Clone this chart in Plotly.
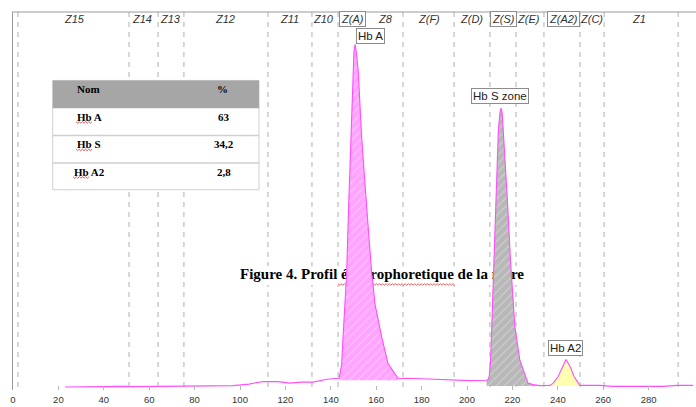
import plotly.graph_objects as go

# ---- Capillary electrophoresis signal (migration position vs. absorbance, a.u.) ----
signal_x = [
    22.9, 28.0, 34.8, 43.6, 48.0, 54.0, 60.4, 66.1, 73.6, 83.7, 86.8, 96.9, 104.0,
    110.1, 116.7, 122.0, 127.3, 132.2, 138.3, 143.0,
    # Hb A
    143.6, 144.1, 144.8, 145.4, 146.3, 147.0, 147.8, 148.9, 149.6, 150.2, 150.7,
    151.3, 152.1, 153.6, 155.9, 158.0, 159.5, 162.4, 165.2, 168.3, 169.6,
    170.2, 172.7, 180.0, 187.0, 193.8, 201.3, 208.6,
    # Hb S
    209.4, 209.8, 210.4, 210.9, 211.9, 212.8, 213.8, 214.5, 215.0, 215.5, 216.0,
    217.7, 219.2, 221.1, 223.3, 225.6, 226.9, 229.0, 232.2, 234.5, 236.6,
    # Hb A2
    238.0, 240.2, 242.2, 243.6, 245.4, 247.1, 249.0, 249.8,
    258.6, 263.9, 273.1, 286.3, 292.5, 299.6,
]
signal_y = [
    0.0, 0.2, 0.0, 0.7, 0.7, 0.4, 0.5, 0.8, 1.0, 1.0, 1.5, 1.5, 3.0,
    5.7, 5.5, 4.0, 5.0, 5.0, 8.0, 8.5,
    9, 14, 24, 51, 84, 117, 180, 254, 321, 342, 349,
    340, 321, 254, 180, 117, 84, 51, 24, 14, 9,
    8.5, 9, 8.5, 8, 7, 6.5, 7,
    8, 11, 27, 61, 127, 194, 261, 279, 284, 279, 261,
    194, 127, 61, 27, 11, 4, 2.5, 1.5, 1.6, 1.7,
    4, 11, 21, 28, 21, 11, 4, 1.7,
    1.7, 0.7, 0.7, 0.7, 1.7, 1.7,
]

# Integrated fractions (%)
fraction_names = ["Hb A", "Hb S", "Hb A2"]
fraction_pct = ["63", "34,2", "2,8"]

# Peak windows: (label, start, end, fill base, background, stripe)
peaks = [
    ("Hb A", 143.3, 169.7, 7.0, "#ffa3ff", "#ffc8ff"),
    ("Hb S zone", 208.6, 232.2, 1.0, "#b8b8b8", "#d2d2d2"),
    ("Hb A2", 236.6, 249.8, 1.0, "#ffffaa", "#ffffcc"),
]
peak_label_pos = [(157.7, 357.5), (214.5, 296.0), (243.4, 39.5)]

# Migration zones
zone_bounds = [2.2, 51.1, 63.9, 75.3, 112.3, 131.7, 143.2, 171.8, 194.3,
               210.1, 221.6, 233.9, 249.8, 260.4, 293.0]
zone_names = ["Z15", "Z14", "Z13", "Z12", "Z11", "Z10", "Z(A)", "Z8", "Z(F)",
              "Z(D)", "Z(S)", "Z(E)", "Z(A2)", "Z(C)", "Z1"]
zone_centers = [26.9, 56.7, 69.4, 93.4, 121.6, 136.6, 149.5, 164.1, 183.3,
                202.2, 215.9, 227.3, 242.3, 254.8, 275.8]
boxed_zones = {"Z(A)", "Z(S)", "Z(A2)"}

x_ticks = list(range(0, 301, 20))

caption = "Figure 4. Profil électrophoretique de la mère"

LINE = "#ff4dff"


# screen helpers for the decorations (axis is 2.27 px / unit, y 1 px / unit)
def X(px):
    return (px - 13) / 2.27


def Y(py):
    return 394 - py


def squiggle(x0p, x1p, yp, layer):
    pts = []
    xp = x0p
    up = True
    while xp <= x1p:
        pts.append((X(xp), Y(yp - (0.8 if up else -0.8))))
        up = not up
        xp += 1.6
    path = "M " + " L ".join(f"{a:.3f},{b:.3f}" for a, b in pts)
    return dict(type="path", path=path, xref="x", yref="y", layer=layer,
                line=dict(color="#e03030", width=0.8))


fig = go.Figure()

# caption sits behind the peaks
fig.add_trace(go.Scatter(
    x=[X(382)], y=[Y(280)], mode="text", text=[caption],
    textfont=dict(family="Liberation Serif", size=15, color="black", weight="bold"),
    hoverinfo="skip", showlegend=False, cliponaxis=False))

# hatched peak fills
for (name, x0, x1, base, bg, fg) in peaks:
    px_ = [x for x in signal_x if x0 <= x <= x1]
    py_ = [y for x, y in zip(signal_x, signal_y) if x0 <= x <= x1]
    fx = [px_[0]] + px_ + [px_[-1]]
    fy = [base] + py_ + [base]
    fig.add_trace(go.Scatter(
        x=fx, y=fy, mode="lines", fill="toself",
        fillcolor=bg,
        fillpattern=dict(shape="/", bgcolor=bg, fgcolor=fg, size=6,
                         solidity=0.18, fillmode="replace"),
        line=dict(width=0), hoverinfo="skip", showlegend=False))

# signal trace
fig.add_trace(go.Scatter(
    x=signal_x, y=signal_y, mode="lines",
    line=dict(color=LINE, width=1.1),
    hoverinfo="skip", showlegend=False))

shapes = []
for b in zone_bounds:
    shapes.append(dict(type="line", xref="x", yref="y", x0=b, x1=b, y0=382, y1=-3,
                       layer="below", line=dict(color="#b0b0b0", width=1, dash="5px,5px")))
# caption backing
shapes.append(dict(type="rect", xref="x", yref="y", x0=X(234), x1=X(531),
                   y0=Y(290), y1=Y(271), layer="below", fillcolor="white",
                   line=dict(width=0)))
shapes.append(squiggle(338, 455, 289.5, "below"))

# frame
shapes.append(dict(type="line", xref="paper", yref="paper", x0=-0.0015, x1=1.01,
                   y0=1, y1=1, line=dict(color="#9a9a9a", width=1)))

# table
tx0, tx1 = X(52.7), X(259)
shapes.append(dict(type="rect", xref="x", yref="y", x0=tx0, x1=tx1,
                   y0=Y(193), y1=Y(81.7), fillcolor="white",
                   line=dict(color="#cfcfcf", width=1), layer="above"))
shapes.append(dict(type="rect", xref="x", yref="y", x0=tx0, x1=tx1,
                   y0=Y(110), y1=Y(81.7), fillcolor="#a6a6a6",
                   line=dict(width=0), layer="above"))
for ry in [137.7, 165.7]:
    shapes.append(dict(type="line", xref="x", yref="y", x0=tx0, x1=tx1,
                       y0=Y(ry), y1=Y(ry), line=dict(color="#cfcfcf", width=1.5),
                       layer="above"))
for (sx0, sx1, sy) in [(76, 93, 124.5), (76, 93, 152.5), (73, 90, 180.5)]:
    shapes.append(squiggle(sx0, sx1, sy, "above"))

annotations = []
# zone labels
for name, c in zip(zone_names, zone_centers):
    boxed = name in boxed_zones
    annotations.append(dict(
        x=c, y=Y(19), xref="x", yref="y", text=name, showarrow=False,
        font=dict(family="Liberation Sans", size=11, color="#333333", style="italic"),
        bordercolor="#8c8c8c" if boxed else "rgba(0,0,0,0)", borderwidth=1,
        borderpad=1, bgcolor="white" if boxed else "rgba(0,0,0,0)"))

# peak labels
for (p, (lx, ly)) in zip(peaks, peak_label_pos):
    annotations.append(dict(
        x=lx, y=ly, xref="x", yref="y", text=p[0], showarrow=False,
        font=dict(family="Liberation Sans", size=11.5, color="#222222"),
        bordercolor="#8c8c8c", borderwidth=1, borderpad=1, bgcolor="white"))

# table text
tfont = dict(family="Liberation Serif", size=11, color="black", weight="bold")
annotations.append(dict(x=X(88.5), y=Y(90), xref="x", yref="y", text="Nom",
                        showarrow=False, font=tfont))
annotations.append(dict(x=X(222.5), y=Y(90), xref="x", yref="y", text="%",
                        showarrow=False, font=tfont))
for i, (n, v) in enumerate(zip(fraction_names, fraction_pct)):
    ry = [118.5, 146.5, 174.5][i]
    annotations.append(dict(x=X(89), y=Y(ry), xref="x", yref="y", text=n,
                            showarrow=False, font=tfont))
    annotations.append(dict(x=X(223.5), y=Y(ry), xref="x", yref="y", text=v,
                            showarrow=False, font=tfont))

fig.update_layout(
    width=696, height=407,
    margin=dict(l=13, r=2, t=12, b=10),
    paper_bgcolor="white", plot_bgcolor="white",
    shapes=shapes, annotations=annotations,
    xaxis=dict(range=[0, 300], tickvals=x_ticks, ticktext=[str(t) for t in x_ticks],
               ticks="inside", ticklen=4, tickcolor="#b5b5b5",
               tickfont=dict(family="Liberation Sans", size=9.5, color="#333333"),
               ticklabelstandoff=2,
               showgrid=False, zeroline=False, showline=False, fixedrange=True),
    yaxis=dict(range=[-3, 382], showticklabels=False, ticks="", showgrid=False,
               zeroline=False, showline=True, linecolor="#9a9a9a", linewidth=1),
)

fig.write_html("out.html")
